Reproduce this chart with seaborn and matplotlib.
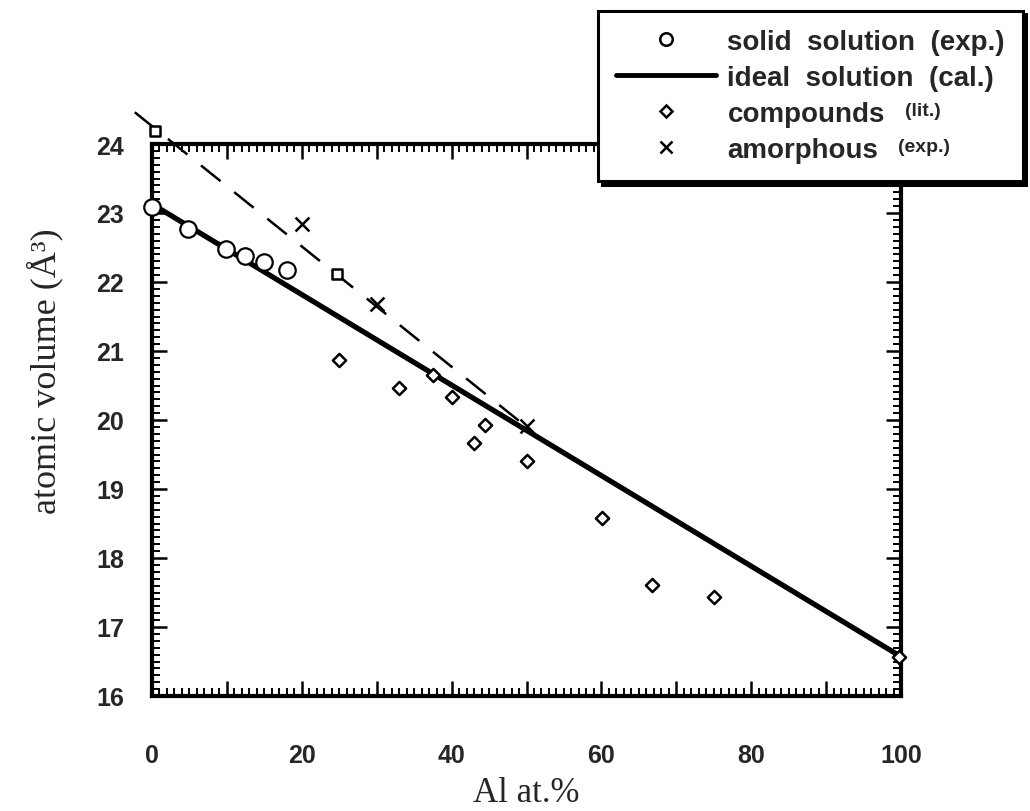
import numpy as np
import pandas as pd
import matplotlib
matplotlib.use("Agg")
import matplotlib.pyplot as plt
import seaborn as sns
from matplotlib.ticker import MultipleLocator, FuncFormatter
from matplotlib.lines import Line2D

# ---- data ----
solid_x = [0, 4.8, 9.9, 12.4, 14.9, 18.0]
solid_y = [23.09, 22.77, 22.48, 22.38, 22.29, 22.17]

ideal_x = [0, 100]
ideal_y = [23.13, 16.57]

comp_x = [24.9, 33.0, 37.5, 40.1, 43.0, 44.5, 50.1, 60.1, 66.8, 75.1, 99.7]
comp_y = [20.87, 20.46, 20.65, 20.33, 19.67, 19.93, 19.41, 18.58, 17.61, 17.43, 16.57]

amor_x = [20, 30, 50]
amor_y = [22.84, 21.68, 19.91]

square_x = [0.4, 24.7]
square_y = [24.19, 22.12]

dash_x = [-2.3, 50]
dash_y = [24.46, 19.9]

legend_labels = ["solid  solution  (exp.)", "ideal  solution  (cal.)",
                 "compounds", "amorphous"]
legend_suffix = [None, None, "(lit.)", "(exp.)"]

x_ticks_labels = [0, 20, 40, 60, 80, 100]

sns.set_style("ticks")
plt.rcParams["font.family"] = ["Liberation Sans", "DejaVu Sans"]

fig = plt.figure(figsize=(10.3, 8.12), dpi=100)
L, R, T, B = 152, 901, 145, 697
ax = fig.add_axes([L / 1030, 1 - B / 812, (R - L) / 1030, (B - T) / 812])

# dashed amorphous trend
sns.lineplot(x=dash_x, y=dash_y, ax=ax, color="black", lw=1.8,
             sort=False, legend=False)
ax.lines[-1].set_dashes([10, 7])
ax.lines[-1].set_clip_on(False)

# ideal solution line
sns.lineplot(x=ideal_x, y=ideal_y, ax=ax, color="black", lw=3.8,
             sort=False, legend=False)
ax.lines[-1].set_clip_on(False)

# markers
sns.scatterplot(x=solid_x, y=solid_y, ax=ax, marker="o", s=140,
                facecolor="white", edgecolor="black", linewidth=1.6,
                zorder=5, clip_on=False)
sns.scatterplot(x=comp_x, y=comp_y, ax=ax, marker="D", s=45,
                facecolor="white", edgecolor="black", linewidth=1.8,
                zorder=5, clip_on=False)
sns.scatterplot(x=amor_x, y=amor_y, ax=ax, marker="x", s=100,
                color="black", linewidth=1.8, zorder=5, clip_on=False)
sns.scatterplot(x=square_x, y=square_y, ax=ax, marker="s", s=55,
                facecolor="white", edgecolor="black", linewidth=1.8,
                zorder=5, clip_on=False)

ax.set_xlim(0, 100)
ax.set_ylim(16, 24)

ax.xaxis.set_major_locator(MultipleLocator(10))
ax.xaxis.set_minor_locator(MultipleLocator(1))
ax.xaxis.set_major_formatter(FuncFormatter(
    lambda v, p: f"{int(round(v))}" if int(round(v)) in x_ticks_labels else ""))
ax.yaxis.set_major_locator(MultipleLocator(1))
ax.yaxis.set_minor_locator(MultipleLocator(0.1))

for sp in ax.spines.values():
    sp.set_linewidth(3)
    sp.set_color("black")

ax.tick_params(which="both", direction="in", top=True, right=True,
               color="black")
ax.tick_params(which="major", length=11, width=1.8)
ax.tick_params(which="minor", length=6, width=1.4)
ax.tick_params(axis="x", which="major", pad=34, labelsize=18)
ax.tick_params(axis="y", which="major", pad=20, labelsize=18)
for lab in ax.get_xticklabels() + ax.get_yticklabels():
    lab.set_fontweight("bold")

ax.set_xlabel("Al at.%", family=["Liberation Serif", "DejaVu Serif"],
              fontsize=25, labelpad=6)
ax.set_ylabel("atomic volume (Å³)",
              family=["Liberation Serif", "DejaVu Serif"], fontsize=26)
ax.yaxis.set_label_coords(-0.118, 0.59)

# legend
handles = [
    Line2D([], [], ls="none", marker="o", ms=9, mfc="white", mec="black", mew=1.8),
    Line2D([], [], color="black", lw=3.5),
    Line2D([], [], ls="none", marker="D", ms=6, mfc="white", mec="black", mew=1.8),
    Line2D([], [], ls="none", marker="x", ms=9, color="black", mew=1.8),
]
leg = fig.legend(handles, legend_labels, loc="upper right",
                 bbox_to_anchor=(1023 / 1030, 1 - 12 / 812), borderaxespad=0,
                 frameon=True, fancybox=False, framealpha=1,
                 edgecolor="black", handlelength=3.6, handletextpad=0.4,
                 borderpad=0.65, labelspacing=0.36,
                 prop={"family": "Liberation Sans", "weight": "bold", "size": 20},
                 shadow={"ox": 2.5, "oy": -2.5, "color": "black", "alpha": 1})
leg.get_frame().set_linewidth(2.2)

fig.canvas.draw()
renderer = fig.canvas.get_renderer()
for txt, suf in zip(leg.get_texts(), legend_suffix):
    if suf is None:
        continue
    bb = txt.get_window_extent(renderer)
    fig.text((bb.x1 + 20) / fig.bbox.width, (bb.y0 + bb.y1) / 2 / fig.bbox.height + 0.004,
             suf, fontsize=14, fontweight="bold", va="center", ha="left",
             family=["Liberation Sans", "DejaVu Sans"], zorder=10)

fig.savefig("out.png", dpi=100)
